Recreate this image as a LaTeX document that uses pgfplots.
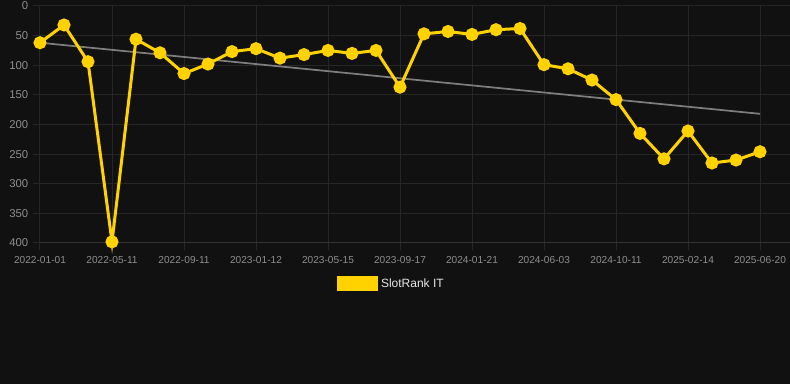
\documentclass[border=0pt]{standalone}
\usepackage{fontspec}
\setmainfont{Liberation Sans}
\usepackage{pgfplots}
\pgfplotsset{compat=1.18}
\definecolor{bg}{HTML}{111111}
\definecolor{gridc}{HTML}{262626}
\definecolor{gridb}{HTML}{333333}
\definecolor{ticktext}{HTML}{8E8E8E}
\definecolor{gold}{HTML}{FFD200}
\definecolor{trend}{HTML}{7E7E7E}
\definecolor{legtext}{HTML}{E6E6E6}
\begin{document}
\begin{tikzpicture}
\fill[bg] (0pt,0pt) rectangle (592.5pt,288pt);
\begin{axis}[
  at={(30pt,105.75pt)}, anchor=south west,
  scale only axis, width=562.5pt, height=177.75pt,
  xmin=0, xmax=31.25, ymin=0, ymax=400, y dir=reverse,
  axis line style={draw=none},
  clip=false,
  grid=major, grid style={gridc, line width=0.75pt},
  xtick={0,3,...,30},
  xticklabels={2022-01-01,2022-05-11,2022-09-11,2023-01-12,2023-05-15,2023-09-17,2024-01-21,2024-06-03,2024-10-11,2025-02-14,2025-06-20},
  ytick={0,50,...,350},
  extra y ticks={400}, extra y tick labels={400},
  extra y tick style={grid style={gridb, line width=0.75pt}},
  xtick pos=bottom, ytick pos=left,
  tick align=outside, major tick length=5.25pt, tick style={gridc, line width=0.75pt},
  /pgf/number format/assume math mode=true,
  yticklabel style={font=\fontsize{8.5}{10}\selectfont, text=ticktext},
  xticklabel style={font=\fontsize{7.6}{9}\selectfont, text=ticktext, yshift=-1.5pt},
  legend style={at={(0.4687,-0.173)}, anchor=center, draw=none, fill=none,
    font=\fontsize{9}{11}\selectfont, text=legtext},
  legend image code/.code={\fill[gold] (0pt,-4.5pt) rectangle (29pt,4.5pt);},
]
\addplot[trend, line width=1.3pt, forget plot] coordinates {(0,62) (30,182)};
\addplot[gold, line width=2.25pt, mark=*, mark size=3.75pt, mark options={fill=gold, draw=none}] coordinates {
(0,62) (1,32) (2,94) (3,398) (4,56) (5,79) (6,114) (7,98) (8,77) (9,72)
(10,88) (11,82) (12,75) (13,80) (14,75) (15,137) (16,47) (17,43) (18,48) (19,40)
(20,38) (21,99) (22,106) (23,125) (24,158) (25,215) (26,258) (27,211) (28,265) (29,260)
(30,246)};
\addlegendentry{SlotRank IT}
\end{axis}
\pgfresetboundingbox
\path[use as bounding box] (0pt,0pt) rectangle (592.5pt,288pt);
\end{tikzpicture}
\end{document}
